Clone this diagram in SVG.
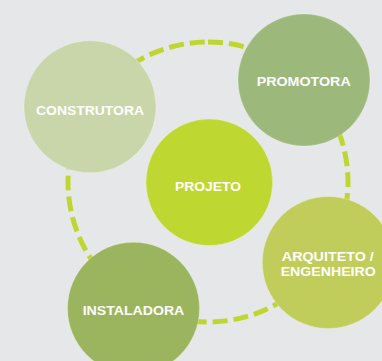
<svg xmlns="http://www.w3.org/2000/svg" width="382" height="361" viewBox="0 0 382 361">
<style>
.node{stroke:#ffffff;stroke-opacity:0.25;stroke-width:1}
.lbl{font-family:"Liberation Sans",Arial,sans-serif;font-weight:bold;font-size:13.5px;fill:#ffffff;text-anchor:middle}
.ring{fill:none;stroke:#bed62f;stroke-width:5;stroke-dasharray:15 6}
</style>
<rect width="382" height="361" fill="#e6e7e8"/>
<g id="connectors">
<path class="ring" d="M208,42 A140,140 0 1 1 208,322 A140,140 0 1 1 208,42 Z"/>
</g>
<g id="construtora">
<circle class="node" cx="90" cy="106.7" r="66" fill="#c9d6a9"/>
<text class="lbl" x="90" y="115" textLength="108" lengthAdjust="spacingAndGlyphs">CONSTRUTORA</text>
</g>
<g id="promotora">
<circle class="node" cx="304" cy="80" r="66" fill="#9cb97b"/>
<text class="lbl" x="303.7" y="86" textLength="94" lengthAdjust="spacingAndGlyphs">PROMOTORA</text>
</g>
<g id="projeto">
<circle class="node" cx="209.3" cy="182.3" r="63.3" fill="#bfd731"/>
<text class="lbl" x="208" y="191" textLength="66" lengthAdjust="spacingAndGlyphs">PROJETO</text>
</g>
<g id="arquiteto">
<circle class="node" cx="328.3" cy="262.5" r="66" fill="#c1cd5b"/>
<text class="lbl" x="327.8" y="260.7" textLength="92" lengthAdjust="spacingAndGlyphs">ARQUITETO /</text>
<text class="lbl" x="328.2" y="276" textLength="95" lengthAdjust="spacingAndGlyphs">ENGENHEIRO</text>
</g>
<g id="instaladora">
<circle class="node" cx="133.5" cy="308.3" r="66" fill="#9bb55e"/>
<text class="lbl" x="133.5" y="315" textLength="101.6" lengthAdjust="spacingAndGlyphs">INSTALADORA</text>
</g>
</svg>
